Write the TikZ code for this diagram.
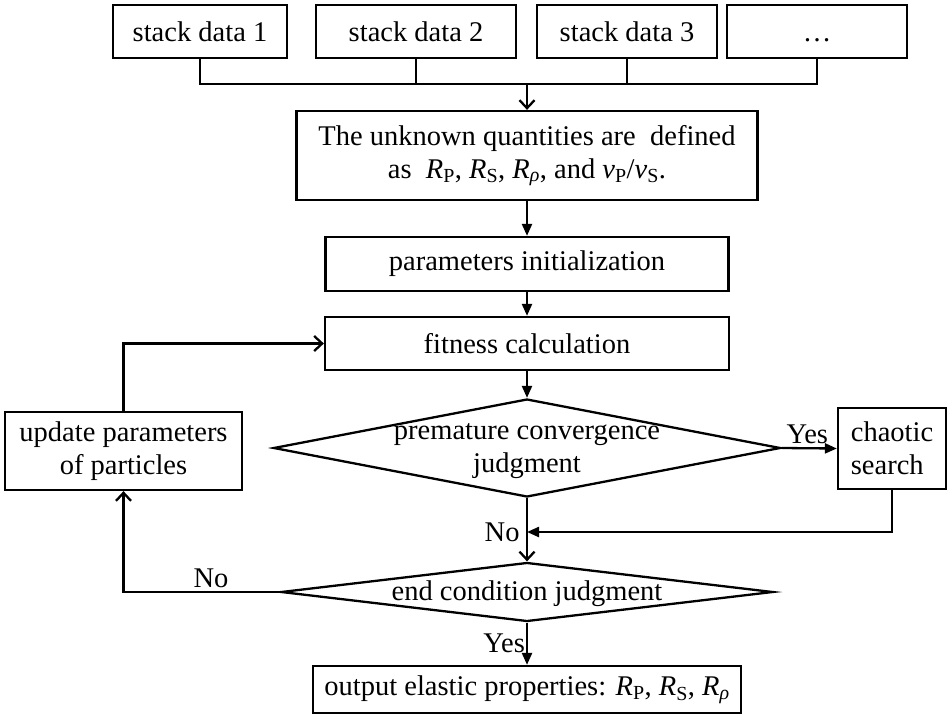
\documentclass[tikz,border=0pt]{standalone}
\usepackage{fontspec}
\setmainfont{Liberation Serif}
\usetikzlibrary{shapes.geometric,arrows.meta}

\newcommand{\Rsub}[1]{\textit{R}\textsubscript{#1}}
\newcommand{\vsub}[1]{\textit{v}\textsubscript{#1}}

\begin{document}
\begin{tikzpicture}[x=1pt,y=-1pt,line width=2.3pt,
	font=\fontsize{28.5}{33}\selectfont,
	box/.style={draw,rectangle,inner sep=0pt,align=center},
	dia/.style={draw,diamond,inner sep=0pt},
	arrfill/.style={-{Triangle[length=12pt,width=10pt]}},
	arropen/.style={-{Straight Barb[length=8pt,width=15pt]}}]
	\useasboundingbox (0,0) rectangle (947,715);

	% input data
	\node[box,minimum width=174pt,minimum height=53pt] (sd1) at (200,31.5) {stack data 1};
	\node[box,minimum width=200pt,minimum height=53pt] (sd2) at (416,31.5) {stack data 2};
	\node[box,minimum width=180pt,minimum height=53pt] (sd3) at (627,31.5) {stack data 3};
	\node[box,minimum width=180pt,minimum height=53pt] (sd4) at (817,31.5) {\vphantom{stack 1}\dots};

	% main flow
	\node[box,minimum width=461pt,minimum height=89pt] (unk) at (527,155.5)
		{The unknown quantities are\ \ defined\\as\ \ \Rsub{P}, \Rsub{S}, \textit{R}\textsubscript{\textit{ρ}}, and \vsub{P}/\vsub{S}.};
	\node[box,minimum width=403pt,minimum height=54pt] (init) at (527,264) {parameters initialization};
	\node[box,minimum width=404pt,minimum height=53pt] (fit) at (527,343.5) {fitness calculation};
	\node[dia,minimum width=507pt,minimum height=98pt] (prem) at (527,448) {};
	\node[align=center] (premtxt) at (527,451) {premature convergence\\judgment};
	\node[box,align=left,minimum width=108pt,minimum height=81pt] (chaos) at (892,448.5) {chaotic\\search};
	\node[box,minimum width=237pt,minimum height=78pt] (upd) at (123.5,451) {update parameters\\of particles};
	\node[dia,minimum width=492pt,minimum height=59pt] (endj) at (527,592) {};
	\node (endtxt) at (527,594) {end condition judgment};
	\node[box,minimum width=428pt,minimum height=47pt] (out) at (527,689.5)
		{output elastic properties: \Rsub{P}, \Rsub{S}, \textit{R}\textsubscript{\textit{ρ}}};

	% connectors
	\coordinate (bus) at (527,84);
	\foreach \n in {sd1,sd2,sd3,sd4}
		\draw (\n.south) |- (bus);
	\draw[arropen] (bus) -- (unk.north);
	\draw[arrfill] (unk.south) -- (init.north);
	\draw[arrfill] (init.south) -- (fit.north);
	\draw[arrfill] (fit.south) -- (prem.north);
	\draw[arrfill] (prem.east) -- node[above,xshift=-2pt] (yes1) {Yes} (chaos.west);
	\coordinate (join) at (527,532);
	\draw[arrfill] (chaos.south) |- (join);
	\node[anchor=east] (no1) at ([xshift=-3pt]join) {No};
	\draw[arropen] (prem.south) -- (endj.north);
	\draw[arropen] (endj.west) -| node[pos=0.22,above] (no2) {No} (upd.south);
	\draw[arropen] (upd.north) |- (fit.west);
	\draw[arrfill] (endj.south) -- node[left,inner sep=1pt] (yes2) {Yes} (out.north);
\end{tikzpicture}
\end{document}
